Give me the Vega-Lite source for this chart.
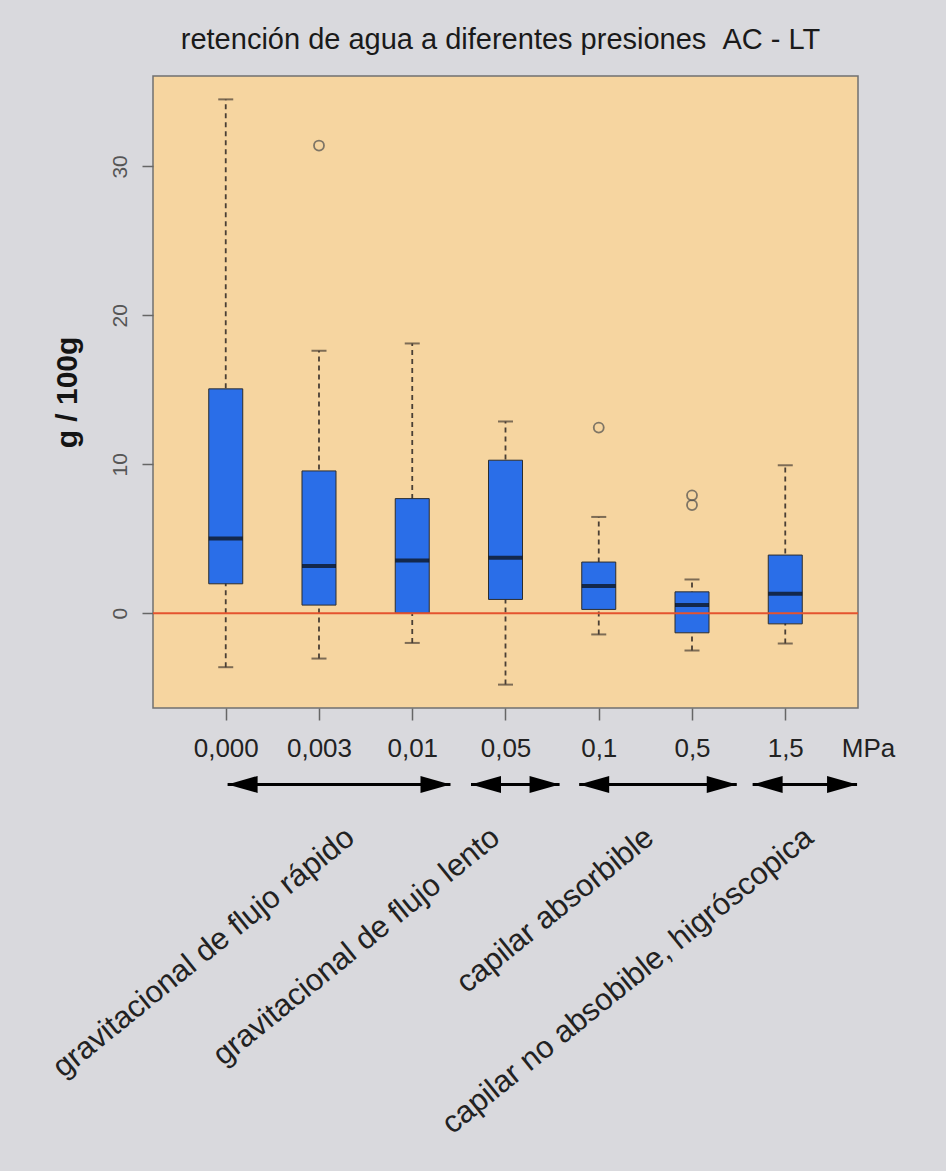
{
  "$schema": "https://vega.github.io/schema/vega-lite/v6.json",
  "width": 705,
  "height": 632,
  "autosize": {"type": "none"},
  "padding": {"left": 153, "top": 76, "right": 88, "bottom": 463},
  "background": "#d9d9dd",
  "config": {
    "font": "Liberation Sans",
    "view": {"fill": "#f6d5a0", "stroke": "#707070", "strokeWidth": 1.5}
  },
  "title": {
    "text": "retención de agua a diferentes presiones \u00a0AC - LT",
    "fontSize": 29,
    "fontWeight": "normal",
    "color": "#1a1a1a",
    "anchor": "middle",
    "frame": "group",
    "baseline": "alphabetic",
    "offset": -2,
    "dx": -5
  },
  "datasets": {
    "cajas": [
      {"pos": 1, "presion": "0,000", "inf": -3.63, "q1": 1.97, "mediana": 5.02, "q3": 15.06, "sup": 34.5},
      {"pos": 2, "presion": "0,003", "inf": -3.05, "q1": 0.54, "mediana": 3.16, "q3": 9.55, "sup": 17.62},
      {"pos": 3, "presion": "0,01", "inf": -2.0, "q1": 0.0, "mediana": 3.54, "q3": 7.69, "sup": 18.11},
      {"pos": 4, "presion": "0,05", "inf": -4.8, "q1": 0.92, "mediana": 3.72, "q3": 10.27, "sup": 12.87},
      {"pos": 5, "presion": "0,1", "inf": -1.43, "q1": 0.25, "mediana": 1.82, "q3": 3.43, "sup": 6.46},
      {"pos": 6, "presion": "0,5", "inf": -2.51, "q1": -1.32, "mediana": 0.54, "q3": 1.43, "sup": 2.26},
      {"pos": 7, "presion": "1,5", "inf": -2.04, "q1": -0.72, "mediana": 1.3, "q3": 3.9, "sup": 9.93}
    ],
    "atipicos": [
      {"pos": 2, "valor": 31.4},
      {"pos": 5, "valor": 12.46},
      {"pos": 6, "valor": 7.91},
      {"pos": 6, "valor": 7.26}
    ],
    "referencia": [
      {"nivel": 0}
    ],
    "grupos": [
      {"grupo": "gravitacional de flujo rápido", "desde": 1.02, "hasta": 3.41, "etiqueta_x": 2.4},
      {"grupo": "gravitacional de flujo lento", "desde": 3.63, "hasta": 4.58, "etiqueta_x": 3.96},
      {"grupo": "capilar absorbible", "desde": 4.79, "hasta": 6.48, "etiqueta_x": 5.61},
      {"grupo": "capilar no absobible, higróscopica", "desde": 6.65, "hasta": 7.77, "etiqueta_x": 7.32}
    ]
  },
  "layer": [
    {
      "data": {"name": "cajas"},
      "mark": {"type": "rule", "strokeDash": [5, 4], "strokeWidth": 1.8, "color": "#4a3f35"},
      "encoding": {
        "x": {
          "field": "pos", "type": "quantitative",
          "scale": {"domain": [0.22, 7.78], "nice": false, "zero": false, "padding": 0},
          "axis": {
            "values": [1, 2, 3, 4, 5, 6, 7],
            "labelExpr": "['0,000','0,003','0,01','0,05','0,1','0,5','1,5'][datum.value - 1]",
            "domain": false, "grid": false,
            "tickSize": 12, "tickColor": "#666666", "tickWidth": 1.5,
            "labelFontSize": 26, "labelColor": "#222222", "labelPadding": 15,
            "labelBaseline": "top", "labelAngle": 0, "labelFlush": false, "labelOverlap": false,
            "title": "MPa", "titleFontSize": 26, "titleFontWeight": "normal", "titleColor": "#222222",
            "titleX": 715, "titleY": 27, "titleAlign": "center", "titleBaseline": "top"
          }
        },
        "y": {
          "field": "inf", "type": "quantitative",
          "scale": {"domain": [-6.37, 36.07], "nice": false, "zero": false, "padding": 0},
          "axis": {
            "values": [0, 10, 20, 30],
            "domain": false, "grid": false,
            "tickSize": 11, "tickColor": "#666666", "tickWidth": 1.5,
            "labelFontSize": 21, "labelColor": "#555555", "labelAngle": 270,
            "labelAlign": "center", "labelBaseline": "alphabetic", "labelPadding": 16,
            "title": "g / 100g", "titleFontSize": 30, "titleFontWeight": "bold", "titleColor": "#141414",
            "titleAngle": 270, "titleX": -77, "titleY": 316, "titleAlign": "center", "titleBaseline": "alphabetic"
          }
        },
        "y2": {"field": "sup"}
      }
    },
    {
      "data": {"name": "cajas"},
      "mark": {"type": "tick", "orient": "horizontal", "size": 15, "thickness": 2, "color": "#4a3f35"},
      "encoding": {
        "x": {"field": "pos", "type": "quantitative"},
        "y": {"field": "inf", "type": "quantitative"}
      }
    },
    {
      "data": {"name": "cajas"},
      "mark": {"type": "tick", "orient": "horizontal", "size": 15, "thickness": 2, "color": "#4a3f35"},
      "encoding": {
        "x": {"field": "pos", "type": "quantitative"},
        "y": {"field": "sup", "type": "quantitative"}
      }
    },
    {
      "data": {"name": "cajas"},
      "mark": {"type": "bar", "width": 34, "fill": "#2a6ee8", "stroke": "#2d2d2d", "strokeWidth": 1},
      "encoding": {
        "x": {"field": "pos", "type": "quantitative"},
        "y": {"field": "q1", "type": "quantitative"},
        "y2": {"field": "q3"}
      }
    },
    {
      "data": {"name": "cajas"},
      "mark": {"type": "tick", "orient": "horizontal", "size": 34, "thickness": 4, "color": "#0a0a0a"},
      "encoding": {
        "x": {"field": "pos", "type": "quantitative"},
        "y": {"field": "mediana", "type": "quantitative"}
      }
    },
    {
      "data": {"name": "atipicos"},
      "mark": {"type": "point", "shape": "circle", "filled": false, "size": 100, "stroke": "#4d4d4d", "strokeWidth": 1.8},
      "encoding": {
        "x": {"field": "pos", "type": "quantitative"},
        "y": {"field": "valor", "type": "quantitative"}
      }
    },
    {
      "data": {"name": "referencia"},
      "mark": {"type": "rule", "color": "#e4532f", "strokeWidth": 2},
      "encoding": {"y": {"field": "nivel", "type": "quantitative"}}
    },
    {
      "data": {"name": "grupos"},
      "mark": {"type": "rule", "color": "#000000", "strokeWidth": 3},
      "encoding": {
        "x": {"field": "desde", "type": "quantitative"},
        "x2": {"field": "hasta"},
        "y": {"datum": -11.5, "type": "quantitative"}
      }
    },
    {
      "data": {"name": "grupos"},
      "mark": {"type": "point", "shape": "M0,0L3,-0.85L3,0.85Z", "filled": true, "size": 400, "color": "#000000", "opacity": 1, "strokeWidth": 0},
      "encoding": {
        "x": {"field": "desde", "type": "quantitative"},
        "y": {"datum": -11.5, "type": "quantitative"}
      }
    },
    {
      "data": {"name": "grupos"},
      "mark": {"type": "point", "shape": "M0,0L-3,-0.85L-3,0.85Z", "filled": true, "size": 400, "color": "#000000", "opacity": 1, "strokeWidth": 0},
      "encoding": {
        "x": {"field": "hasta", "type": "quantitative"},
        "y": {"datum": -11.5, "type": "quantitative"}
      }
    },
    {
      "data": {"name": "grupos"},
      "mark": {"type": "text", "angle": 321, "align": "right", "baseline": "alphabetic", "fontSize": 31, "color": "#222222"},
      "encoding": {
        "x": {"field": "etiqueta_x", "type": "quantitative"},
        "y": {"datum": -15.3, "type": "quantitative"},
        "text": {"field": "grupo"}
      }
    }
  ]
}
